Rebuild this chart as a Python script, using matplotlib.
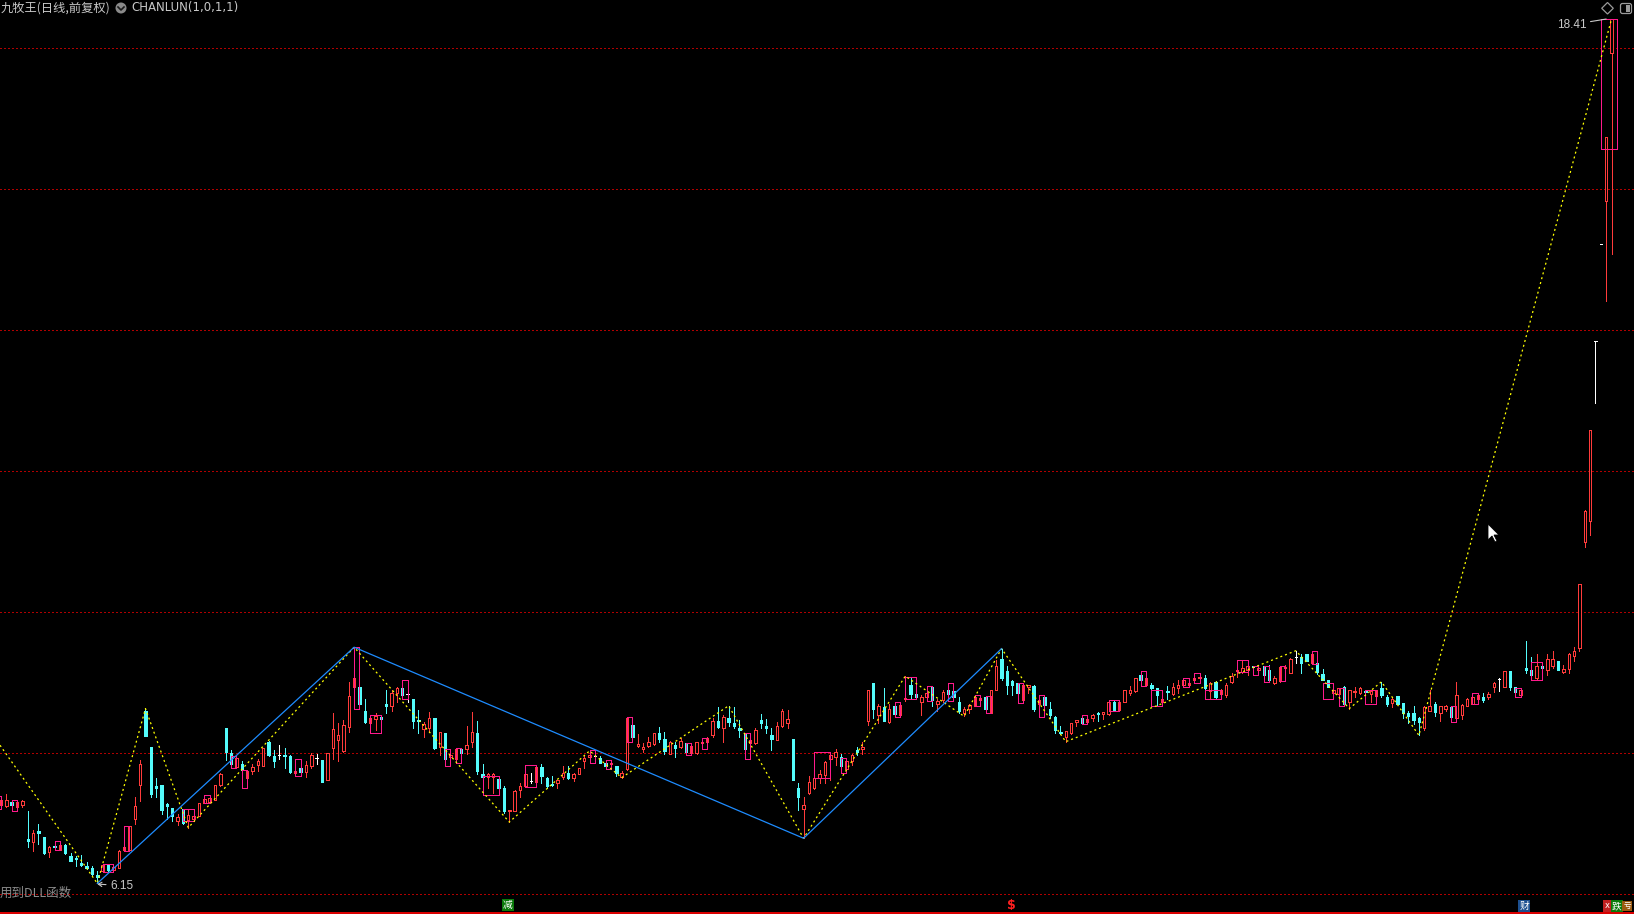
import numpy as np
import matplotlib
matplotlib.use("Agg")
import matplotlib.pyplot as plt
from matplotlib.patches import Rectangle, Circle, Polygon, FancyBboxPatch
from matplotlib.lines import Line2D
from matplotlib.transforms import IdentityTransform

# ---------------- data ----------------
opens = [
 7.26, 7.25, 7.30, 7.24, 7.26, 6.78, 6.74, 6.89, 6.81, 6.60,
 6.68, 6.63, 6.69, 6.54, 6.51, 6.44, 6.40, 6.37, 6.27, 6.33,
 6.41, 6.34, 6.37, 6.62, 6.63, 7.06, 7.54, 8.59, 8.08, 7.53,
 7.55, 7.27, 7.22, 7.03, 7.20, 7.05, 7.06, 7.11, 7.29, 7.31,
 7.34, 7.54, 8.35, 8.00, 7.80, 7.85, 7.64, 7.74, 7.83, 7.82,
 8.16, 7.95, 7.97, 7.97, 7.95, 7.72, 7.79, 7.73, 7.81, 7.93,
 7.90, 7.62, 8.07, 8.18, 8.03, 8.37, 8.94, 8.94, 8.59, 8.42,
 8.48, 8.51, 8.69, 8.66, 8.85, 8.92, 8.83, 8.77, 8.47, 8.34,
 8.36, 8.49, 8.08, 8.29, 7.94, 7.92, 8.06, 8.06, 8.16, 8.28,
 7.70, 7.66, 7.66, 7.63, 7.50, 7.18, 7.18, 7.47, 7.53, 7.60,
 7.59, 7.80, 7.65, 7.56, 7.58, 7.66, 7.71, 7.65, 7.70, 7.88,
 7.94, 7.95, 7.93, 7.86, 7.84, 7.81, 7.66, 7.77, 8.40, 8.10,
 8.05, 8.10, 8.13, 8.28, 8.20, 7.99, 8.11, 8.08, 8.14, 8.00,
 8.00, 8.14, 8.16, 8.25, 8.46, 8.36, 8.49, 8.43, 8.35, 8.28,
 8.14, 8.14, 8.47, 8.38, 8.25, 8.19, 8.38, 8.42, 8.20, 7.50,
 7.20, 7.43, 7.50, 7.65, 7.69, 7.91, 7.94, 7.94, 7.77, 7.89,
 8.04, 8.05, 8.46, 8.99, 8.54, 8.65, 8.44, 8.67, 8.54, 8.76,
 8.96, 8.84, 8.73, 8.79, 8.93, 8.69, 8.75, 8.89, 8.88, 8.73,
 8.57, 8.62, 8.67, 8.75, 8.79, 8.57, 8.90, 9.33, 9.16, 9.02,
 8.99, 8.75, 8.93, 8.95, 8.69, 8.80, 8.62, 8.51, 8.30, 8.22,
 8.28, 8.44, 8.49, 8.44, 8.49, 8.56, 8.55, 8.55, 8.73, 8.61,
 8.73, 8.85, 8.88, 9.11, 8.96, 8.96, 8.92, 8.72, 8.88, 8.84,
 8.92, 8.97, 8.96, 9.03, 9.07, 9.07, 8.88, 9.01, 8.84, 8.82,
 9.00, 9.16, 9.15, 9.18, 9.23, 9.18, 9.23, 9.18, 8.99, 9.02,
 9.20, 9.14, 9.36, 9.36, 9.40, 9.27, 9.27, 9.12, 9.03, 8.85,
 8.84, 8.94, 8.73, 8.86, 8.85, 8.88, 8.84, 8.81, 8.92, 8.80,
 8.71, 8.81, 8.71, 8.57, 8.56, 8.49, 8.35, 8.60, 8.70, 8.57,
 8.62, 8.65, 8.49, 8.54, 8.67, 8.70, 8.77, 8.80, 8.79, 8.93,
 9.05, 8.93, 9.16, 8.93, 8.82, 9.20, 9.18, 9.06, 9.23, 9.17,
 9.23, 9.30, 9.15, 9.19, 9.37, 9.49, 10.99, 11.29, 13.84, 15.22,
 15.83, 17.93]

highs = [
 7.39, 7.42, 7.34, 7.34, 7.34, 7.17, 6.91, 6.99, 6.81, 6.68,
 6.75, 6.75, 6.71, 6.58, 6.54, 6.55, 6.46, 6.40, 6.33, 6.43,
 6.43, 6.40, 6.62, 6.68, 6.97, 7.37, 7.90, 8.63, 8.08, 7.65,
 7.55, 7.29, 7.22, 7.14, 7.20, 7.19, 7.18, 7.29, 7.40, 7.40,
 7.55, 7.71, 8.35, 8.04, 7.95, 7.88, 7.76, 7.84, 7.92, 8.07,
 8.17, 8.04, 8.11, 8.07, 7.97, 7.92, 7.80, 7.88, 8.00, 7.99,
 7.90, 8.00, 8.56, 8.42, 8.47, 9.01, 9.50, 9.06, 8.76, 8.54,
 8.56, 8.54, 8.89, 8.90, 8.94, 9.04, 8.92, 8.77, 8.61, 8.44,
 8.58, 8.49, 8.30, 8.29, 8.05, 8.07, 8.07, 8.38, 8.58, 8.45,
 7.84, 7.72, 7.71, 7.65, 7.53, 7.19, 7.47, 7.58, 7.83, 7.71,
 7.83, 7.85, 7.66, 7.67, 7.61, 7.81, 7.81, 7.72, 7.79, 7.95,
 8.03, 7.98, 7.96, 7.90, 7.88, 7.82, 7.74, 8.51, 8.42, 8.27,
 8.14, 8.22, 8.29, 8.37, 8.30, 8.17, 8.16, 8.21, 8.14, 8.11,
 8.16, 8.21, 8.22, 8.49, 8.65, 8.54, 8.67, 8.65, 8.47, 8.28,
 8.20, 8.36, 8.55, 8.48, 8.35, 8.44, 8.63, 8.61, 8.20, 7.57,
 7.38, 7.68, 7.65, 7.76, 7.88, 8.00, 8.05, 7.99, 7.90, 7.98,
 8.09, 8.16, 8.90, 8.99, 8.69, 8.92, 8.70, 8.73, 8.70, 9.09,
 9.07, 8.86, 8.82, 8.95, 8.95, 8.77, 8.89, 8.99, 8.90, 8.79,
 8.65, 8.70, 8.82, 8.82, 8.81, 8.90, 9.32, 9.48, 9.23, 9.04,
 8.99, 8.97, 8.97, 8.96, 8.82, 8.82, 8.73, 8.52, 8.38, 8.31,
 8.43, 8.47, 8.54, 8.50, 8.55, 8.58, 8.58, 8.75, 8.75, 8.75,
 8.90, 8.95, 9.07, 9.16, 9.07, 8.99, 8.92, 8.80, 8.95, 8.99,
 9.03, 9.06, 9.00, 9.14, 9.12, 9.10, 9.00, 9.02, 8.91, 8.99,
 9.13, 9.22, 9.32, 9.25, 9.24, 9.24, 9.23, 9.25, 9.09, 9.23,
 9.25, 9.34, 9.45, 9.40, 9.40, 9.45, 9.28, 9.19, 9.04, 8.99,
 8.92, 8.95, 8.89, 8.93, 8.93, 8.89, 8.89, 8.89, 9.01, 8.82,
 8.78, 8.81, 8.71, 8.59, 8.67, 8.51, 8.66, 8.90, 8.72, 8.67,
 8.68, 8.67, 9.01, 8.70, 8.78, 8.85, 8.84, 8.85, 8.86, 9.00,
 9.06, 9.16, 9.16, 8.93, 8.91, 9.59, 9.36, 9.40, 9.25, 9.40,
 9.45, 9.30, 9.25, 9.42, 9.50, 10.40, 11.44, 12.58, 13.84, 15.22,
 16.74, 18.41]

lows = [
 7.21, 7.24, 7.18, 7.18, 7.24, 6.66, 6.61, 6.71, 6.57, 6.53,
 6.62, 6.62, 6.57, 6.47, 6.40, 6.40, 6.36, 6.27, 6.15, 6.31,
 6.32, 6.31, 6.37, 6.61, 6.62, 6.99, 7.32, 8.24, 7.38, 7.38,
 7.14, 7.07, 7.04, 6.98, 6.99, 6.94, 7.04, 7.10, 7.29, 7.30,
 7.33, 7.53, 7.90, 7.80, 7.78, 7.50, 7.50, 7.70, 7.75, 7.81,
 7.96, 7.80, 7.91, 7.78, 7.72, 7.68, 7.72, 7.66, 7.78, 7.84,
 7.59, 7.61, 7.92, 7.89, 8.02, 8.30, 8.80, 8.62, 8.42, 8.29,
 8.33, 8.30, 8.57, 8.59, 8.73, 8.77, 8.73, 8.36, 8.29, 8.22,
 8.30, 8.06, 7.97, 7.81, 7.82, 7.86, 7.90, 7.99, 8.09, 7.70,
 7.61, 7.50, 7.43, 7.45, 7.15, 7.02, 7.17, 7.38, 7.52, 7.57,
 7.58, 7.58, 7.51, 7.53, 7.51, 7.63, 7.63, 7.60, 7.70, 7.78,
 7.86, 7.90, 7.86, 7.77, 7.78, 7.67, 7.65, 7.76, 8.16, 8.09,
 8.02, 8.08, 8.12, 8.15, 7.99, 7.98, 7.94, 8.07, 7.97, 7.99,
 7.99, 8.05, 8.15, 8.22, 8.35, 8.16, 8.38, 8.36, 8.23, 7.91,
 8.10, 8.13, 8.36, 8.29, 8.04, 8.18, 8.37, 8.36, 7.61, 7.19,
 6.79, 7.42, 7.49, 7.58, 7.58, 7.62, 7.83, 7.80, 7.76, 7.83,
 7.97, 7.99, 8.40, 8.50, 8.42, 8.46, 8.43, 8.51, 8.52, 8.74,
 8.76, 8.77, 8.54, 8.74, 8.67, 8.59, 8.73, 8.74, 8.74, 8.57,
 8.52, 8.56, 8.66, 8.70, 8.57, 8.56, 8.89, 9.04, 8.84, 8.82,
 8.71, 8.74, 8.85, 8.60, 8.51, 8.55, 8.50, 8.29, 8.27, 8.16,
 8.27, 8.38, 8.41, 8.41, 8.46, 8.46, 8.48, 8.54, 8.59, 8.60,
 8.72, 8.82, 8.87, 8.95, 8.95, 8.90, 8.67, 8.67, 8.76, 8.82,
 8.85, 8.94, 8.95, 8.99, 9.03, 8.90, 8.77, 8.77, 8.80, 8.80,
 8.99, 9.08, 9.14, 9.11, 9.11, 9.13, 9.01, 9.02, 8.98, 9.01,
 9.15, 9.13, 9.27, 9.14, 9.30, 9.26, 9.12, 9.04, 8.93, 8.77,
 8.66, 8.67, 8.63, 8.80, 8.84, 8.69, 8.73, 8.69, 8.80, 8.66,
 8.65, 8.69, 8.50, 8.43, 8.41, 8.25, 8.33, 8.59, 8.52, 8.46,
 8.60, 8.44, 8.48, 8.48, 8.66, 8.70, 8.76, 8.73, 8.76, 8.86,
 8.88, 8.93, 8.89, 8.79, 8.79, 9.13, 9.08, 9.04, 9.10, 9.11,
 9.21, 9.17, 9.13, 9.14, 9.31, 9.44, 10.92, 11.09, 12.96, 15.22,
 14.41, 15.08]

closes = [
 7.33, 7.34, 7.26, 7.30, 7.32, 6.75, 6.87, 6.86, 6.58, 6.66,
 6.67, 6.69, 6.58, 6.47, 6.49, 6.41, 6.37, 6.28, 6.24, 6.41,
 6.34, 6.38, 6.61, 6.66, 6.96, 7.25, 7.84, 8.24, 7.42, 7.50,
 7.19, 7.25, 7.11, 7.09, 7.00, 7.12, 7.10, 7.29, 7.35, 7.36,
 7.55, 7.70, 8.02, 7.85, 7.93, 7.76, 7.74, 7.80, 7.88, 8.07,
 7.97, 7.88, 7.97, 7.95, 7.73, 7.74, 7.73, 7.83, 7.97, 7.93,
 7.59, 8.00, 8.34, 8.25, 8.40, 8.81, 9.06, 8.70, 8.44, 8.49,
 8.52, 8.48, 8.67, 8.85, 8.92, 8.82, 8.83, 8.46, 8.45, 8.41,
 8.50, 8.07, 8.30, 7.92, 7.97, 8.06, 8.00, 8.11, 8.30, 7.74,
 7.66, 7.70, 7.70, 7.51, 7.18, 7.19, 7.46, 7.53, 7.70, 7.60,
 7.80, 7.67, 7.53, 7.54, 7.61, 7.72, 7.65, 7.70, 7.79, 7.93,
 7.97, 7.95, 7.86, 7.81, 7.86, 7.72, 7.72, 8.50, 8.22, 8.13,
 8.08, 8.15, 8.28, 8.20, 8.03, 8.16, 8.07, 8.17, 8.02, 8.10,
 8.15, 8.16, 8.21, 8.46, 8.37, 8.51, 8.44, 8.38, 8.33, 8.06,
 8.19, 8.32, 8.42, 8.35, 8.20, 8.38, 8.59, 8.48, 7.61, 7.37,
 7.26, 7.59, 7.65, 7.70, 7.87, 7.97, 8.01, 7.81, 7.89, 7.97,
 8.02, 8.08, 8.90, 8.63, 8.67, 8.46, 8.62, 8.55, 8.68, 8.78,
 8.84, 8.79, 8.80, 8.85, 8.75, 8.74, 8.87, 8.84, 8.79, 8.59,
 8.62, 8.68, 8.79, 8.78, 8.63, 8.89, 9.23, 9.07, 8.96, 8.97,
 8.85, 8.96, 8.96, 8.63, 8.75, 8.68, 8.54, 8.33, 8.28, 8.31,
 8.43, 8.47, 8.43, 8.48, 8.54, 8.55, 8.58, 8.73, 8.60, 8.73,
 8.89, 8.89, 9.06, 9.04, 9.06, 8.92, 8.82, 8.76, 8.86, 8.93,
 8.96, 9.03, 8.99, 9.07, 9.08, 8.92, 8.99, 8.79, 8.90, 8.97,
 9.09, 9.18, 9.20, 9.24, 9.22, 9.21, 9.11, 9.03, 9.06, 9.22,
 9.22, 9.33, 9.36, 9.28, 9.31, 9.41, 9.15, 9.04, 8.94, 8.90,
 8.92, 8.70, 8.89, 8.88, 8.92, 8.86, 8.88, 8.89, 8.82, 8.70,
 8.77, 8.70, 8.57, 8.52, 8.47, 8.44, 8.65, 8.67, 8.58, 8.67,
 8.66, 8.51, 8.82, 8.68, 8.77, 8.79, 8.82, 8.75, 8.84, 8.99,
 9.05, 9.16, 8.93, 8.86, 8.90, 9.17, 9.11, 9.23, 9.20, 9.33,
 9.33, 9.17, 9.19, 9.41, 9.45, 10.40, 11.43, 12.58, 13.84, 15.22,
 16.74, 18.41]

# Chanlun strokes (yellow dashed) and segments (blue): bar index, price
stroke_idx = [-0.19, 18, 27, 35, 66, 95, 110, 116, 136, 150, 169, 180, 187, 199, 242, 252, 258, 265, 301]
stroke_px = [8.11, 6.15, 8.63, 6.94, 9.50, 7.02, 8.03, 7.65, 8.67, 6.79, 9.09, 8.52, 9.48, 8.16, 9.45, 8.63, 9.01, 8.25, 18.41]
seg_idx = [18, 66, 150, 187]
seg_px = [6.15, 9.50, 6.79, 9.48]

# merged-bar boxes (magenta): first bar, last bar, top, bottom
box_start = [-1, 2, 10, 19, 23, 34, 38, 43, 45, 55, 66, 69, 75, 83, 85, 90, 98, 110, 113, 117,
             128, 131, 139, 152, 157, 167, 169, 173, 177, 182, 184, 190, 194, 202, 207, 213, 215,
             221, 223, 225, 231, 234, 236, 239, 245, 247, 250, 255, 271, 275, 283, 286, 299]
box_end = [0, 3, 11, 21, 24, 36, 39, 44, 46, 56, 67, 71, 76, 84, 86, 93, 100, 111, 114, 118,
           129, 132, 140, 155, 158, 168, 171, 174, 178, 183, 185, 191, 195, 203, 209, 214, 217,
           222, 224, 228, 233, 235, 237, 240, 246, 249, 251, 257, 272, 276, 284, 288, 302]
box_top = [7.39, 7.34, 6.75, 6.43, 6.96, 7.20, 7.40, 7.95, 7.76, 7.92, 9.50, 8.54, 9.04, 8.05, 8.07,
           7.67, 7.83, 8.04, 7.90, 8.51, 8.14, 8.21, 8.28, 8.01, 7.93, 8.73, 9.08, 8.95, 8.99, 8.82,
           8.81, 8.99, 8.82, 8.54, 8.75, 9.16, 8.89, 9.06, 9.14, 8.90, 9.32, 9.24, 9.23, 9.23, 9.45,
           8.99, 8.92, 8.89, 8.67, 8.85, 8.92, 9.29, 18.41]
box_bottom = [7.21, 7.18, 6.62, 6.31, 6.61, 7.04, 7.29, 7.78, 7.50, 7.68, 8.62, 8.29, 8.77, 7.81, 7.86,
              7.41, 7.52, 7.86, 7.77, 8.16, 7.97, 8.05, 7.91, 7.65, 7.72, 8.51, 8.76, 8.74, 8.74, 8.66,
              8.57, 8.71, 8.51, 8.41, 8.59, 8.95, 8.67, 8.94, 8.99, 8.77, 9.15, 9.11, 9.01, 9.02, 9.26,
              8.77, 8.66, 8.69, 8.44, 8.70, 8.79, 9.04, 16.57]

grid_levels = [6, 8, 10, 12, 14, 16, 18]
title_text = "九牧王(日线,前复权)"
indicator_text = "CHANLUN(1,0,1,1)"
high_label = "18.41"
low_label = "6.15"
dll_text = "用到DLL函数"

# ---------------- style ----------------
UP = "#FF3B3B"
DOWN = "#54FCFC"
DOJI = "#FFFFFF"
BOX = "#FF1A8C"
STROKE = "#FFFF00"
SEG = "#1E8CFF"
GRID = "#B00000"
TXT = "#C8C8C8"

W_PX, H_PX = 1634, 914
fig = plt.figure(figsize=(W_PX / 100, H_PX / 100), dpi=100, facecolor="black")
ax = fig.add_axes([0, 0, 1, 1])
ax.set_facecolor("black")
ax.set_xlim(-0.187, 305.2)
ax.set_ylim(5.716, 18.68)
ax.set_axis_off()

o = np.array(opens); h = np.array(highs); l = np.array(lows); c = np.array(closes)
x = np.arange(len(o))
up = c > o
dn = c < o
fl = c == o
BW = 0.45
EW = 0.72

for lv in grid_levels:
    ax.axhline(lv, color=GRID, lw=0.75, ls=(0, (1, 2)), antialiased=False, zorder=1)

# up candles: hollow red
ax.vlines(x[up], l[up], h[up], color=UP, lw=EW, antialiased=False, zorder=2)
ax.bar(x[up], c[up] - o[up], bottom=o[up], width=BW, facecolor="black", edgecolor=UP,
       linewidth=EW, antialiased=False, zorder=3)
# down candles: filled cyan
ax.vlines(x[dn], l[dn], h[dn], color=DOWN, lw=EW, antialiased=False, zorder=2)
ax.bar(x[dn], o[dn] - c[dn], bottom=c[dn], width=BW, facecolor=DOWN, edgecolor=DOWN,
       linewidth=EW, antialiased=False, zorder=3)
# doji: white
ax.vlines(x[fl], l[fl], h[fl], color=DOJI, lw=EW, antialiased=False, zorder=2)
ax.hlines(o[fl], x[fl] - BW / 2, x[fl] + BW / 2, color=DOJI, lw=EW, antialiased=False, zorder=3)

# merged-bar boxes
for s, e, t, b in zip(box_start, box_end, box_top, box_bottom):
    ax.add_patch(Rectangle((s, b), e - s, t - b, fill=False, edgecolor=BOX, lw=0.72,
                           antialiased=False, zorder=4))

# strokes and segments
ax.plot(stroke_idx, stroke_px, color=STROKE, lw=0.9, ls=(0, (1.6, 2.4)), zorder=5)
ax.plot(seg_idx, seg_px, color=SEG, lw=0.9, zorder=5)

# extreme labels
lab_font = ["Liberation Sans", "DejaVu Sans"]
ax.annotate(high_label, xy=(300, 18.41), xytext=(296.3, 18.33), ha="right", va="center",
            color=TXT, fontsize=8.5, family=lab_font,
            arrowprops=dict(arrowstyle="-", color=TXT, lw=0.8, shrinkA=1, shrinkB=0), zorder=6)
ax.annotate(low_label, xy=(18, 6.14), xytext=(20.4, 6.12), ha="left", va="center",
            color=TXT, fontsize=8.5, family=lab_font,
            arrowprops=dict(arrowstyle="->,head_length=0.3,head_width=0.18", color=TXT, lw=0.8,
                            shrinkA=1, shrinkB=0), zorder=6)

# ---------------- chrome (pixel placement) ----------------
def fx(px):
    return px / W_PX

def fy(py):
    return 1 - py / H_PX

fig.text(fx(1), fy(8), title_text, color=TXT, fontsize=8.8, va="center", ha="left",
         family=["Noto Sans CJK SC", "DejaVu Sans"])
fig.add_artist(Circle((121, H_PX - 8), 5.5, transform=IdentityTransform(), facecolor="#8A8A8A",
                      edgecolor="none"))
fig.add_artist(Line2D([118, 121, 124], [H_PX - 7, H_PX - 10, H_PX - 7], transform=IdentityTransform(),
                      color="#1A1A1A", lw=1.2))
fig.text(fx(131), fy(8), indicator_text, color=TXT, fontsize=8.5, va="center", ha="left",
         family=["DejaVu Sans"])
fig.text(fx(0), fy(893), dll_text, color="#8C8C8C", fontsize=9, va="center", ha="left",
         family=["Noto Sans CJK SC", "DejaVu Sans"])

# top-right icons
fig.add_artist(Polygon([(1607.5, H_PX - 2.5), (1613.3, H_PX - 8.3), (1607.5, H_PX - 14), (1601.7, H_PX - 8.3)],
                       closed=True, transform=IdentityTransform(), fill=False, edgecolor="#9A9A9A", lw=0.9))
fig.add_artist(FancyBboxPatch((1620.5, H_PX - 13.5), 11, 10, boxstyle="round,pad=0,rounding_size=2",
                              transform=IdentityTransform(), fill=False, edgecolor="#9A9A9A", lw=0.9))
fig.add_artist(Rectangle((1626, H_PX - 11.7), 3.8, 6.5, transform=IdentityTransform(),
                         facecolor="#9A9A9A", edgecolor="none"))

# bottom bar and markers
fig.add_artist(Line2D([0, W_PX], [0.8, 0.8], transform=IdentityTransform(), color="#E00000", lw=1.4))
cjk = ["Noto Sans CJK SC", "DejaVu Sans"]
fig.text(fx(508), fy(905), "减", color="white", fontsize=7, ha="center", va="center", family=cjk,
         bbox=dict(boxstyle="square,pad=0.08", fc="#0A7A0A", ec="none"))
fig.text(fx(1011), fy(905), "$", color="#FF2020", fontsize=9, ha="center", va="center",
         family=["DejaVu Sans"], fontweight="bold")
fig.text(fx(1524), fy(906), "财", color="white", fontsize=7, ha="center", va="center", family=cjk,
         bbox=dict(boxstyle="square,pad=0.08", fc="#1C4F8F", ec="none"))
fig.text(fx(1607), fy(906), "x", color="white", fontsize=6, ha="center", va="center", family=["DejaVu Sans"],
         bbox=dict(boxstyle="square,pad=0.15", fc="#C02020", ec="none"))
fig.text(fx(1617), fy(906), "跌", color="white", fontsize=7, ha="center", va="center", family=cjk,
         bbox=dict(boxstyle="square,pad=0.08", fc="#0A7A0A", ec="none"))
fig.text(fx(1627), fy(906), "亏", color="white", fontsize=5.5, ha="center", va="center", family=cjk,
         bbox=dict(boxstyle="square,pad=0.1", fc="#9A5A10", ec="none"))

# mouse pointer
tipx, tipy = 1488, 524
ptr = [(0, 0), (0, 16), (4, 12), (7, 18), (9, 17), (6, 11), (11, 11)]
fig.add_artist(Polygon([(tipx + dx, H_PX - (tipy + dy)) for dx, dy in ptr], closed=True,
                       transform=IdentityTransform(), facecolor="white", edgecolor="black", lw=0.6))

fig.savefig("out.png", dpi=100, facecolor="black")
